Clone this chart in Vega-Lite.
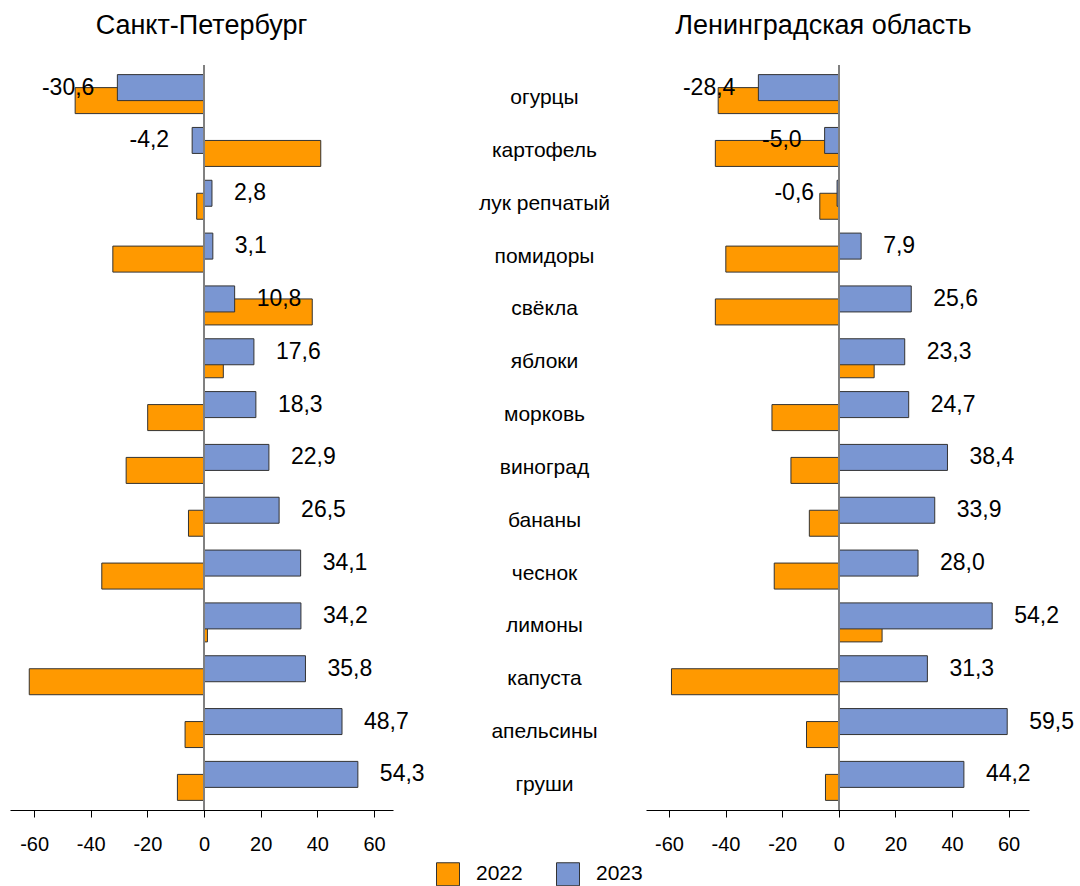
{
  "$schema": "https://vega.github.io/schema/vega-lite/v6.json",
  "padding": {"left": 10, "top": 11, "right": 0, "bottom": 0},
  "background": "white",
  "data": {"values": [
    {"region": "spb", "category": "огурцы", "year": "2022", "value": -45.5},
    {"region": "spb", "category": "картофель", "year": "2022", "value": 41.2},
    {"region": "spb", "category": "лук репчатый", "year": "2022", "value": -2.6},
    {"region": "spb", "category": "помидоры", "year": "2022", "value": -32.2},
    {"region": "spb", "category": "свёкла", "year": "2022", "value": 38.2},
    {"region": "spb", "category": "яблоки", "year": "2022", "value": 6.8},
    {"region": "spb", "category": "морковь", "year": "2022", "value": -19.9},
    {"region": "spb", "category": "виноград", "year": "2022", "value": -27.5},
    {"region": "spb", "category": "бананы", "year": "2022", "value": -5.5},
    {"region": "spb", "category": "чеснок", "year": "2022", "value": -36.1},
    {"region": "spb", "category": "лимоны", "year": "2022", "value": 1.2},
    {"region": "spb", "category": "капуста", "year": "2022", "value": -61.7},
    {"region": "spb", "category": "апельсины", "year": "2022", "value": -6.7},
    {"region": "spb", "category": "груши", "year": "2022", "value": -9.4},
    {"region": "spb", "category": "огурцы", "year": "2023", "value": -30.6},
    {"region": "spb", "category": "картофель", "year": "2023", "value": -4.2},
    {"region": "spb", "category": "лук репчатый", "year": "2023", "value": 2.8},
    {"region": "spb", "category": "помидоры", "year": "2023", "value": 3.1},
    {"region": "spb", "category": "свёкла", "year": "2023", "value": 10.8},
    {"region": "spb", "category": "яблоки", "year": "2023", "value": 17.6},
    {"region": "spb", "category": "морковь", "year": "2023", "value": 18.3},
    {"region": "spb", "category": "виноград", "year": "2023", "value": 22.9},
    {"region": "spb", "category": "бананы", "year": "2023", "value": 26.5},
    {"region": "spb", "category": "чеснок", "year": "2023", "value": 34.1},
    {"region": "spb", "category": "лимоны", "year": "2023", "value": 34.2},
    {"region": "spb", "category": "капуста", "year": "2023", "value": 35.8},
    {"region": "spb", "category": "апельсины", "year": "2023", "value": 48.7},
    {"region": "spb", "category": "груши", "year": "2023", "value": 54.3},
    {"region": "lo", "category": "огурцы", "year": "2022", "value": -42.6},
    {"region": "lo", "category": "картофель", "year": "2022", "value": -43.6},
    {"region": "lo", "category": "лук репчатый", "year": "2022", "value": -6.7},
    {"region": "lo", "category": "помидоры", "year": "2022", "value": -39.9},
    {"region": "lo", "category": "свёкла", "year": "2022", "value": -43.6},
    {"region": "lo", "category": "яблоки", "year": "2022", "value": 12.5},
    {"region": "lo", "category": "морковь", "year": "2022", "value": -23.6},
    {"region": "lo", "category": "виноград", "year": "2022", "value": -16.9},
    {"region": "lo", "category": "бананы", "year": "2022", "value": -10.4},
    {"region": "lo", "category": "чеснок", "year": "2022", "value": -22.8},
    {"region": "lo", "category": "лимоны", "year": "2022", "value": 15.3},
    {"region": "lo", "category": "капуста", "year": "2022", "value": -59.1},
    {"region": "lo", "category": "апельсины", "year": "2022", "value": -11.4},
    {"region": "lo", "category": "груши", "year": "2022", "value": -4.7},
    {"region": "lo", "category": "огурцы", "year": "2023", "value": -28.4},
    {"region": "lo", "category": "картофель", "year": "2023", "value": -5.0},
    {"region": "lo", "category": "лук репчатый", "year": "2023", "value": -0.6},
    {"region": "lo", "category": "помидоры", "year": "2023", "value": 7.9},
    {"region": "lo", "category": "свёкла", "year": "2023", "value": 25.6},
    {"region": "lo", "category": "яблоки", "year": "2023", "value": 23.3},
    {"region": "lo", "category": "морковь", "year": "2023", "value": 24.7},
    {"region": "lo", "category": "виноград", "year": "2023", "value": 38.4},
    {"region": "lo", "category": "бананы", "year": "2023", "value": 33.9},
    {"region": "lo", "category": "чеснок", "year": "2023", "value": 28.0},
    {"region": "lo", "category": "лимоны", "year": "2023", "value": 54.2},
    {"region": "lo", "category": "капуста", "year": "2023", "value": 31.3},
    {"region": "lo", "category": "апельсины", "year": "2023", "value": 59.5},
    {"region": "lo", "category": "груши", "year": "2023", "value": 44.2}
  ]},
  "spacing": 253,
  "bounds": "flush",
  "resolve": {"scale": {"x": "independent", "y": "independent", "color": "shared"}, "legend": {"color": "shared"}},
  "hconcat": [
    {
      "width": 383,
      "height": 745,
      "title": {"text": "Санкт-Петербург", "fontSize": 27, "fontWeight": "normal", "offset": 25, "color": "black", "anchor": "middle"},
      "transform": [{"filter": "datum.region === 'spb'"}],
      "encoding": {
        "y": {"field": "category", "type": "nominal",
          "sort": ["огурцы","картофель","лук репчатый","помидоры","свёкла","яблоки","морковь","виноград","бананы","чеснок","лимоны","капуста","апельсины","груши"],
          "scale": {"paddingInner": 0.262, "paddingOuter": 0.182},
          "axis": {"orient": "right", "title": null, "domain": false, "ticks": false, "tickSize": 0, "labelAlign": "center", "labelBaseline": "middle", "labelPadding": 151, "labelOffset": 4, "labelFontSize": 21, "labelColor": "black", "labelLimit": 300}},
        "x": {"field": "value", "type": "quantitative", "stack": null,
          "scale": {"domain": [-68.5, 66.7], "nice": false, "zero": false},
          "axis": {"values": [-60, -40, -20, 0, 20, 40, 60], "grid": false, "title": null, "domainColor": "black", "tickColor": "black", "tickSize": 7, "labelFontSize": 20, "labelPadding": 17, "labelColor": "black", "labelFlush": false, "format": "d"}}
      },
      "layer": [
        {
          "transform": [{"filter": "datum.year === '2022'"}],
          "mark": {"type": "bar", "height": {"band": 0.6667}, "yOffset": 6.5, "stroke": "#333333", "strokeWidth": 1},
          "encoding": {
            "color": {"field": "year", "type": "nominal",
              "scale": {"domain": ["2022", "2023"], "range": ["#FF9900", "#7A96D2"]},
              "legend": {"title": null, "orient": "none", "legendX": 426, "legendY": 797, "direction": "horizontal", "symbolType": "square", "symbolSize": 529, "symbolStrokeColor": "#404040", "symbolStrokeWidth": 1, "labelFontSize": 21, "labelOffset": 16, "columnPadding": 31, "padding": 0, "labelColor": "black"}}
          }
        },
        {
          "transform": [{"filter": "datum.year === '2023'"}],
          "mark": {"type": "bar", "height": {"band": 0.6667}, "yOffset": -6.5, "stroke": "#333333", "strokeWidth": 1},
          "encoding": {
            "color": {"field": "year", "type": "nominal"}
          }
        },
        {"mark": {"type": "rule", "color": "#808080", "strokeWidth": 1}, "encoding": {"x": {"datum": 0}, "y": null}},
        {
          "transform": [{"filter": "datum.year === '2023' && datum.value >= 0"}],
          "mark": {"type": "text", "align": "left", "baseline": "middle", "dx": 22, "yOffset": -6.5, "fontSize": 23, "color": "black"},
          "encoding": {
            "text": {"field": "value", "type": "quantitative", "format": ".1f"}
          }
        },
        {
          "transform": [{"filter": "datum.year === '2023' && datum.value < 0"}],
          "mark": {"type": "text", "align": "right", "baseline": "middle", "dx": -23, "yOffset": -6.5, "fontSize": 23, "color": "black"},
          "encoding": {
            "text": {"field": "value", "type": "quantitative", "format": ".1f"}
          }
        }
      ]
    },
    {
      "width": 383,
      "height": 745,
      "title": {"text": "Ленинградская область", "fontSize": 27, "fontWeight": "normal", "offset": 25, "color": "black", "anchor": "middle", "dx": -14},
      "transform": [{"filter": "datum.region === 'lo'"}],
      "encoding": {
        "y": {"field": "category", "type": "nominal",
          "sort": ["огурцы","картофель","лук репчатый","помидоры","свёкла","яблоки","морковь","виноград","бананы","чеснок","лимоны","капуста","апельсины","груши"],
          "scale": {"paddingInner": 0.262, "paddingOuter": 0.182},
          "axis": null},
        "x": {"field": "value", "type": "quantitative", "stack": null,
          "scale": {"domain": [-68.1, 67.2], "nice": false, "zero": false},
          "axis": {"values": [-60, -40, -20, 0, 20, 40, 60], "grid": false, "title": null, "domainColor": "black", "tickColor": "black", "tickSize": 7, "labelFontSize": 20, "labelPadding": 17, "labelColor": "black", "labelFlush": false, "format": "d"}}
      },
      "layer": [
        {
          "transform": [{"filter": "datum.year === '2022'"}],
          "mark": {"type": "bar", "height": {"band": 0.6667}, "yOffset": 6.5, "stroke": "#333333", "strokeWidth": 1},
          "encoding": {
            "color": {"field": "year", "type": "nominal",
              "scale": {"domain": ["2022", "2023"], "range": ["#FF9900", "#7A96D2"]},
              "legend": {"title": null, "orient": "none", "legendX": 426, "legendY": 797, "direction": "horizontal", "symbolType": "square", "symbolSize": 529, "symbolStrokeColor": "#404040", "symbolStrokeWidth": 1, "labelFontSize": 21, "labelOffset": 16, "columnPadding": 31, "padding": 0, "labelColor": "black"}}
          }
        },
        {
          "transform": [{"filter": "datum.year === '2023'"}],
          "mark": {"type": "bar", "height": {"band": 0.6667}, "yOffset": -6.5, "stroke": "#333333", "strokeWidth": 1},
          "encoding": {
            "color": {"field": "year", "type": "nominal"}
          }
        },
        {"mark": {"type": "rule", "color": "#808080", "strokeWidth": 1}, "encoding": {"x": {"datum": 0}, "y": null}},
        {
          "transform": [{"filter": "datum.year === '2023' && datum.value >= 0"}],
          "mark": {"type": "text", "align": "left", "baseline": "middle", "dx": 22, "yOffset": -6.5, "fontSize": 23, "color": "black"},
          "encoding": {
            "text": {"field": "value", "type": "quantitative", "format": ".1f"}
          }
        },
        {
          "transform": [{"filter": "datum.year === '2023' && datum.value < 0"}],
          "mark": {"type": "text", "align": "right", "baseline": "middle", "dx": -23, "yOffset": -6.5, "fontSize": 23, "color": "black"},
          "encoding": {
            "text": {"field": "value", "type": "quantitative", "format": ".1f"}
          }
        }
      ]
    }
  ],
  "config": {
    "font": "Liberation Sans",
    "view": {"stroke": null},
    "locale": {"number": {"decimal": ",", "thousands": " ", "grouping": [3], "currency": ["", ""], "minus": "-"}},
    "title": {"font": "Liberation Sans"},
    "axis": {"labelFont": "Liberation Sans"},
    "legend": {"labelFont": "Liberation Sans"}
  }
}
